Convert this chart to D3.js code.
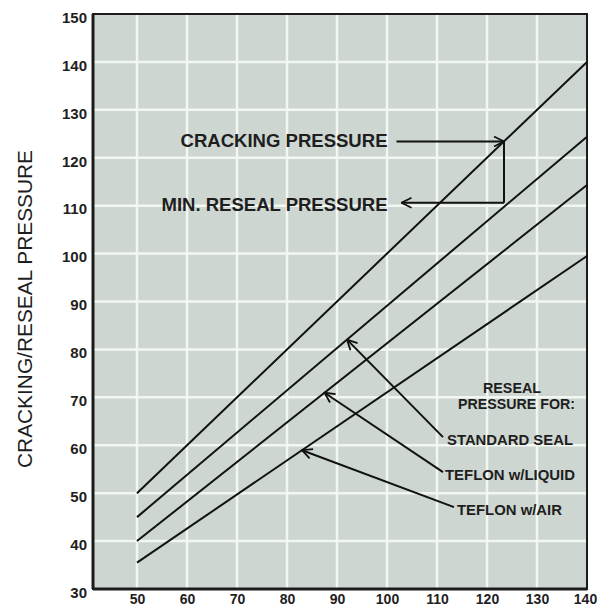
<!DOCTYPE html>
<html><head><meta charset="utf-8">
<script src="https://cdn.jsdelivr.net/npm/d3@7"></script>
<style>
body{margin:0;background:#fff;}
text{font-family:"Liberation Sans Narrow","Liberation Sans",Arial,sans-serif;font-weight:bold;fill:#1e1e1e;}
</style></head>
<body>
<svg id="chart" width="597" height="609"></svg>
<script>
// ---- data ----
const xTicks = [50, 60, 70, 80, 90, 100, 110, 120, 130, 140];
const yTicks = [30, 40, 50, 60, 70, 80, 90, 100, 110, 120, 130, 140, 150];
const seriesNames = ["Cracking Pressure", "Standard Seal", "Teflon w/Liquid", "Teflon w/Air"];
const seriesX = [50, 140];
const crackingValues = [50, 140];
const standardSealValues = [45, 124.4];
const teflonLiquidValues = [40, 114.3];
const teflonAirValues = [35.5, 99.5];
const yAxisTitle = "CRACKING/RESEAL PRESSURE";
const calloutLabels = ["CRACKING PRESSURE", "MIN. RESEAL PRESSURE"];
const legendTitle = ["RESEAL", "PRESSURE FOR:"];
const legendLabels = ["STANDARD SEAL", "TEFLON w/LIQUID", "TEFLON w/AIR"];
// arrow targets (x value on each reseal line)
const legendTargetsX = [92, 87.5, 83];
// label anchors in data units
const legendLabelPos = [[112.0, 60.1], [111.6, 52.8], [114.0, 45.4]];
const legendLabelLen = [126, 130, 105];
const legendTailPos = [[111.2, 61.7], [111.2, 54.4], [113.4, 47.1]];
const calloutX = 123.4, crackY = 123.4, resealY = 110.6;

const svg = d3.select("#chart");
const L = 93, R = 587, T = 14, B = 589;
const x = d3.scaleLinear().domain([41.2, 140]).range([L, R]);
const y = d3.scaleLinear().domain([30, 150]).range([B, T]);

// background
svg.append("rect").attr("x", L).attr("y", T).attr("width", R - L).attr("height", B - T).attr("fill", "#cdd6d1");

// grid
svg.append("g").selectAll("line").data(xTicks.slice(0, -1)).join("line")
  .attr("x1", d => x(d)).attr("x2", d => x(d)).attr("y1", T).attr("y2", B)
  .attr("stroke", "#f3f7f1").attr("stroke-width", 2.5);
svg.append("g").selectAll("line").data(yTicks.slice(1, -1)).join("line")
  .attr("y1", d => y(d)).attr("y2", d => y(d)).attr("x1", L).attr("x2", R)
  .attr("stroke", "#f3f7f1").attr("stroke-width", 2.5);

// border
svg.append("rect").attr("x", L).attr("y", T).attr("width", R - L).attr("height", B - T)
  .attr("fill", "none").attr("stroke", "#1c1c1c").attr("stroke-width", 2);
svg.append("line").attr("x1", L).attr("x2", L).attr("y1", T).attr("y2", B).attr("stroke", "#1c1c1c").attr("stroke-width", 3);
svg.append("line").attr("x1", L).attr("x2", R).attr("y1", B).attr("y2", B).attr("stroke", "#1c1c1c").attr("stroke-width", 3);

// axes labels
const xAxis = d3.axisBottom(x).tickValues(xTicks).tickSize(0).tickPadding(5);
const gx = svg.append("g").attr("transform", `translate(0,${B})`).call(xAxis);
gx.select(".domain").remove();
gx.selectAll("text").attr("font-size", 14).attr("dy", "0.72em")
  .style("font-family", "'Liberation Sans',Arial,sans-serif").attr("fill", "#222")
  .attr("dx", d => d === 140 ? -2 : 0);

const yAxis = d3.axisLeft(y).tickValues(yTicks).tickSize(0).tickPadding(6);
const gy = svg.append("g").attr("transform", `translate(${L},0)`).call(yAxis);
gy.select(".domain").remove();
gy.selectAll("text").attr("font-size", 15).attr("dy", "0.55em").style("font-family", "'Liberation Sans',Arial,sans-serif").attr("fill", "#222");

svg.append("text").attr("transform", `translate(32,${309}) rotate(-90)`)
  .attr("text-anchor", "middle").attr("font-size", 21).style("font-weight", "normal")
  .attr("textLength", 318).attr("lengthAdjust", "spacingAndGlyphs")
  .style("font-family", "'Liberation Sans',Arial,sans-serif")
  .text(yAxisTitle);

// lines
const allVals = [crackingValues, standardSealValues, teflonLiquidValues, teflonAirValues];
const line = d3.line().x((d, i) => x(seriesX[i])).y(d => y(d));
svg.append("g").selectAll("path").data(allVals).join("path")
  .attr("d", d => line(d)).attr("fill", "none").attr("stroke", "#111").attr("stroke-width", 2);

// arrow marker
svg.append("defs").append("marker").attr("id", "arr").attr("viewBox", "0 0 12 12")
  .attr("refX", 11).attr("refY", 6).attr("markerWidth", 12).attr("markerHeight", 12)
  .attr("markerUnits", "userSpaceOnUse").attr("orient", "auto")
  .append("path").attr("d", "M1,1 L11,6 L1,11").attr("fill", "none").attr("stroke", "#111").attr("stroke-width", 1.8);

function interp(vals, xv) {
  return vals[0] + (vals[1] - vals[0]) * (xv - seriesX[0]) / (seriesX[1] - seriesX[0]);
}

// callouts
const ann = svg.append("g");
ann.append("text").attr("x", x(100.1)).attr("y", y(122.3)).attr("text-anchor", "end")
  .attr("font-size", 19).attr("textLength", 207).attr("lengthAdjust", "spacingAndGlyphs").text(calloutLabels[0]);
ann.append("text").attr("x", x(100.1)).attr("y", y(108.9)).attr("text-anchor", "end")
  .attr("font-size", 19).attr("textLength", 226).attr("lengthAdjust", "spacingAndGlyphs").text(calloutLabels[1]);
ann.append("line").attr("x1", x(101.9)).attr("y1", y(crackY)).attr("x2", x(calloutX)).attr("y2", y(crackY))
  .attr("stroke", "#111").attr("stroke-width", 2).attr("marker-end", "url(#arr)");
ann.append("line").attr("x1", x(calloutX)).attr("y1", y(crackY)).attr("x2", x(calloutX)).attr("y2", y(resealY))
  .attr("stroke", "#111").attr("stroke-width", 2);
ann.append("line").attr("x1", x(calloutX)).attr("y1", y(resealY)).attr("x2", x(102.9)).attr("y2", y(resealY))
  .attr("stroke", "#111").attr("stroke-width", 2).attr("marker-end", "url(#arr)");

// legend block
ann.append("text").attr("x", x(125)).attr("y", y(70.9)).attr("text-anchor", "middle")
  .attr("font-size", 15).attr("textLength", 58).attr("lengthAdjust", "spacingAndGlyphs").text(legendTitle[0]);
ann.append("text").attr("x", x(125.9)).attr("y", y(67.6)).attr("text-anchor", "middle")
  .attr("font-size", 15).attr("textLength", 117).attr("lengthAdjust", "spacingAndGlyphs").text(legendTitle[1]);

const resealSeries = [standardSealValues, teflonLiquidValues, teflonAirValues];
legendLabels.forEach((lab, i) => {
  ann.append("text").attr("x", x(legendLabelPos[i][0])).attr("y", y(legendLabelPos[i][1]))
    .attr("font-size", 15).attr("textLength", legendLabelLen[i]).attr("lengthAdjust", "spacingAndGlyphs").text(lab);
  const tx = legendTargetsX[i], ty = interp(resealSeries[i], tx);
  ann.append("line").attr("x1", x(legendTailPos[i][0])).attr("y1", y(legendTailPos[i][1]))
    .attr("x2", x(tx)).attr("y2", y(ty))
    .attr("stroke", "#111").attr("stroke-width", 2).attr("marker-end", "url(#arr)");
});
</script>
</body></html>
